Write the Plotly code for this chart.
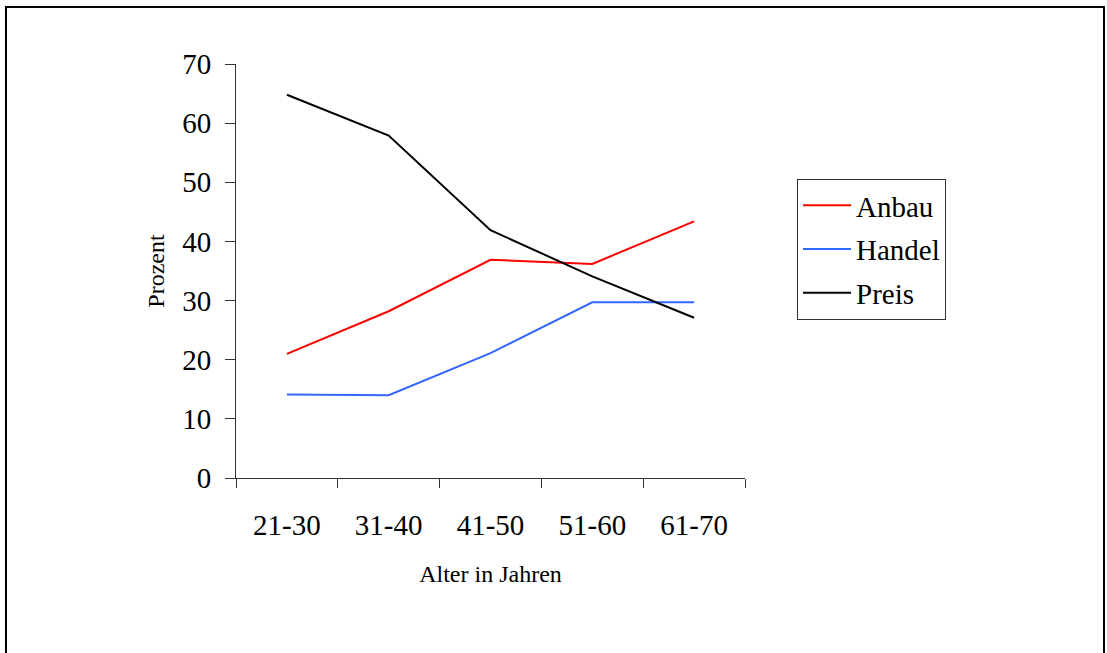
import plotly.graph_objects as go

categories = ["21-30", "31-40", "41-50", "51-60", "61-70"]
anbau = [21.0, 28.2, 36.9, 36.2, 43.4]
handel = [14.1, 14.0, 21.1, 29.7, 29.7]
preis = [64.8, 57.9, 41.9, 34.1, 27.1]

W, H = 1107, 653
L, R, T, B = 236, 745, 64, 478
FONT = "Liberation Serif, Times New Roman, serif"

fig = go.Figure()
for name, vals, col in [("Anbau", anbau, "#FF0000"),
                        ("Handel", handel, "#3366FF"),
                        ("Preis", preis, "#000000")]:
    fig.add_trace(go.Scatter(x=categories, y=vals, name=name, mode="lines",
                             legendgroup=name,
                             line=dict(color=col, width=2)))

pw, ph = R - L, B - T
fig.update_layout(
    width=W, height=H,
    margin=dict(l=L, r=W - R, t=T, b=H - B, pad=0),
    paper_bgcolor="white", plot_bgcolor="white",
    font=dict(family=FONT, color="black"),
    showlegend=True,
    legend=dict(x=(797 - L) / pw, y=(B - 179) / ph, xanchor="left", yanchor="top",
                bordercolor="#333", borderwidth=1, bgcolor="white",
                font=dict(family=FONT, size=29, color="black"),
                tracegroupgap=3, itemwidth=48),
    xaxis=dict(type="category", range=[-0.5, 4.5], tickson="boundaries",
               showgrid=False, zeroline=False, showline=True, linecolor="#333", linewidth=1,
               ticks="outside", ticklen=9, tickcolor="#333",
               tickfont=dict(family=FONT, size=29), ticklabelstandoff=21,
               title=dict(text="Alter in Jahren", font=dict(family=FONT, size=24), standoff=25)),
    yaxis=dict(range=[0, 70], tickvals=[0, 10, 20, 30, 40, 50, 60, 70],
               showgrid=False, zeroline=False, showline=True, linecolor="#333", linewidth=1,
               ticks="outside", ticklen=10, tickcolor="#333",
               tickfont=dict(family=FONT, size=29), ticklabelstandoff=8,
               title=dict(text="Prozent", font=dict(family=FONT, size=24), standoff=10)),
    shapes=[dict(type="rect", xref="paper", yref="paper",
                 x0=(6 - L) / pw, x1=(1104 - L) / pw,
                 y0=(B - 670) / ph, y1=(B - 7) / ph,
                 line=dict(color="black", width=2))],
)
fig.write_html("out.html")
